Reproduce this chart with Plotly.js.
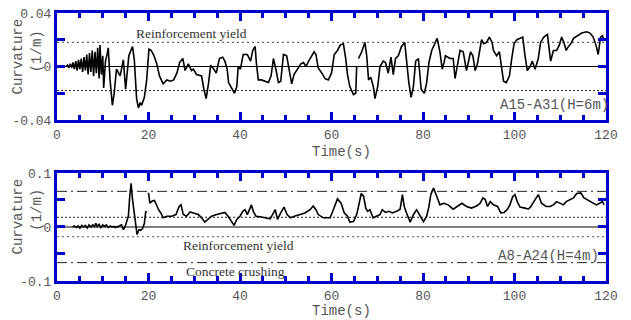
<!DOCTYPE html>
<html>
<head>
<meta charset="utf-8">
<script src="https://cdn.plot.ly/plotly-3.0.1.min.js"></script>
<style>html,body{margin:0;padding:0;background:#fff;}#chart{width:631px;height:320px;}</style>
</head>
<body>
<div id="chart"></div>
<script>
// ---- Data ----
// Top panel: A15-A31 (H=6m)
const topTime = [2.0,2.3,2.6,2.9,3.2,3.5,3.8,4.1,4.4,4.7,5.0,5.3,5.6,5.9,6.2,6.5,6.8,7.1,7.4,7.7,8.0,8.3,8.6,8.9,9.2,9.4,9.7,10.0,10.2,10.6,11.0,11.2,11.6,12.1,12.5,13.0,13.8,14.5,15.0,15.7,16.5,16.9,17.4,17.8,18.2,18.5,19.1,19.6,20.1,20.6,21.2,21.8,22.4,23.2,24.0,24.8,25.5,26.2,26.8,27.5,28.0,28.7,29.4,29.8,30.5,31.6,32.1,32.6,33.1,33.6,34.3,34.8,35.5,36.2,36.7,37.2,37.5,38.2,38.8,39.3,39.6,40.1,40.7,41.6,42.3,42.8,43.3,43.6,44.0,44.7,45.5,46.2,46.8,47.3,47.9,48.4,48.9,49.5,50.2,50.8,51.3,51.8,52.6,53.3,53.9,54.4,55.0,55.7,56.2,56.6,57.1,57.9,58.6,59.3,60.0,60.6,61.3,61.9,62.6,63.1,63.5,64.0,64.8,65.3,65.5,null,65.9,66.6,67.3,67.7,68.1,68.6,69.2,69.5,70.1,70.6,71.3,71.8,72.4,73.0,73.5,74.0,74.6,75.3,76.0,76.4,76.9,77.4,77.9,78.4,79.0,79.6,80.3,80.8,81.3,81.9,82.6,83.1,83.7,84.2,84.6,84.9,85.9,86.6,87.0,87.6,88.1,88.8,89.5,89.9,90.4,90.9,91.4,91.9,92.5,92.8,93.3,93.9,94.5,95.1,95.4,96.1,96.7,97.2,97.6,98.2,98.9,99.4,99.9,100.5,101.2,101.8,102.3,102.8,103.4,103.9,104.5,105.2,105.7,106.4,107.2,107.6,107.9,108.5,109.2,109.8,110.3,110.8,111.3,111.8,112.3,112.9,113.8,114.7,115.8,116.5,117.2,117.8,118.3,118.8,119.2,119.6];
const topCurv = [0.000,0.001,-0.001,0.002,-0.001,0.003,-0.002,0.004,-0.003,0.005,-0.002,0.006,-0.004,0.007,-0.003,0.009,-0.006,0.010,-0.004,0.012,-0.007,0.011,-0.005,0.014,-0.009,0.016,-0.006,0.008,-0.016,0.004,0.010,0.014,-0.010,-0.029,-0.020,-0.002,-0.007,0.005,-0.017,0.008,0.015,0.005,-0.024,-0.031,-0.027,-0.029,-0.023,-0.010,0.013,0.012,0.008,0.002,-0.007,-0.013,-0.010,-0.011,-0.010,-0.005,0.003,0.006,-0.003,0.002,-0.003,-0.002,-0.006,-0.007,-0.017,-0.024,-0.013,0.001,-0.002,-0.005,0.006,0.007,0.004,-0.002,-0.012,-0.016,-0.020,-0.015,0.000,-0.002,0.009,0.009,0.004,0.012,0.015,0.002,-0.010,-0.010,-0.011,-0.012,-0.007,0.006,-0.003,-0.012,-0.011,0.009,0.008,-0.005,-0.013,-0.006,-0.002,0.002,0.003,0.000,0.004,0.008,0.011,0.009,-0.001,-0.005,-0.009,-0.010,-0.005,0.009,0.012,0.016,0.017,0.006,-0.006,-0.015,-0.021,-0.020,0.000,null,0.006,0.011,0.018,0.008,-0.010,-0.008,-0.016,-0.024,-0.015,0.000,0.004,0.003,-0.005,0.007,-0.006,0.006,0.008,0.015,0.018,0.003,-0.012,-0.023,-0.015,0.004,0.006,-0.017,-0.020,-0.012,0.003,0.012,0.017,0.021,0.011,-0.002,0.003,0.008,0.006,0.006,-0.009,0.002,0.012,0.011,-0.003,0.003,0.011,0.008,-0.003,0.002,0.013,0.020,0.017,0.018,0.022,0.018,0.012,0.008,0.011,-0.002,-0.011,-0.012,-0.007,0.006,0.017,0.020,0.021,0.022,0.008,-0.003,0.000,0.004,-0.002,0.006,0.018,0.022,0.024,0.013,0.004,0.012,0.012,0.016,0.022,0.018,0.012,0.015,0.017,0.021,0.023,0.025,0.026,0.025,0.022,0.016,0.009,0.022,0.023,0.020];

// Bottom panel: A8-A24 (H=4m)
const botTime = [3.4,3.8,4.2,4.6,5.0,5.4,5.8,6.2,6.6,7.0,7.4,7.8,8.2,8.5,8.8,9.2,9.6,10.0,10.4,10.8,11.2,11.6,12.0,12.4,12.8,13.2,13.6,14.1,14.5,14.9,15.2,15.6,15.9,16.2,16.5,16.9,17.2,17.5,17.9,18.3,18.7,19.1,19.4,19.6,null,20.0,20.3,20.8,21.3,21.6,22.2,22.7,23.2,24.0,25.1,26.0,26.7,27.1,27.6,28.3,29.1,29.8,30.9,31.6,32.3,33.1,33.8,34.9,36.0,36.7,37.4,38.2,38.7,39.3,40.0,40.6,41.1,41.6,42.2,42.5,42.9,43.5,44.4,45.5,46.6,47.7,48.2,48.9,49.6,50.3,51.0,51.9,53.1,54.2,55.3,56.0,56.6,57.1,58.2,59.3,59.7,60.4,61.3,62.1,62.8,63.5,64.0,64.8,65.5,65.9,66.5,67.0,67.5,67.9,68.4,69.1,69.9,70.6,71.1,71.8,72.6,73.3,74.2,75.0,75.5,75.9,76.4,77.2,77.9,78.6,79.4,80.1,80.8,81.3,81.7,82.3,83.0,83.7,84.5,85.5,86.6,87.6,88.5,89.5,90.6,91.7,92.5,93.1,93.6,94.1,94.7,95.4,96.3,97.0,97.7,98.4,99.0,99.6,100.1,100.6,101.2,102.3,103.0,103.5,104.5,105.2,105.9,106.9,107.8,108.5,109.2,109.9,110.7,111.3,112.1,112.9,113.6,114.5,115.2,116.2,117.2,117.9,118.6,119.2,119.6];
const botCurv = [0.000,0.002,-0.001,0.002,-0.002,0.003,0.000,0.003,-0.002,0.004,0.000,0.004,0.001,0.007,0.001,0.005,-0.001,0.004,0.001,0.004,-0.001,0.002,0.000,0.001,-0.001,0.000,0.002,0.004,-0.005,0.001,0.010,0.020,0.057,0.081,0.051,0.020,0.001,-0.014,-0.005,-0.006,-0.003,0.007,0.029,0.027,null,0.063,0.044,0.048,0.049,0.044,0.032,0.026,0.017,0.020,0.020,0.023,0.038,0.041,0.023,0.020,0.028,0.026,0.023,0.017,0.009,0.015,0.020,0.023,0.026,0.027,0.020,0.010,0.003,0.014,0.020,0.029,0.032,0.023,0.033,0.041,0.029,0.020,0.019,0.017,0.015,0.032,0.014,0.026,0.037,0.023,0.017,0.020,0.023,0.026,0.032,0.039,0.032,0.023,0.017,0.017,0.017,0.032,0.052,0.044,0.026,0.020,0.009,0.010,0.023,0.038,0.062,0.057,0.035,0.029,0.032,0.017,0.021,0.023,0.032,0.027,0.029,0.026,0.029,0.033,0.060,0.038,0.026,0.009,0.023,0.032,0.020,0.010,0.020,0.038,0.060,0.072,0.057,0.041,0.044,0.041,0.033,0.039,0.044,0.038,0.035,0.039,0.044,0.054,0.051,0.038,0.047,0.041,0.038,0.026,0.027,0.032,0.041,0.056,0.060,0.047,0.037,0.035,0.033,0.037,0.051,0.060,0.044,0.038,0.038,0.041,0.047,0.044,0.041,0.047,0.050,0.054,0.062,0.063,0.054,0.049,0.044,0.041,0.044,0.047,0.041];

// Thresholds
const timeSpan = [0, 120];
const yieldTop = 0.018;        // reinforcement yield, top panel
const yieldBot = 0.018;        // reinforcement yield, bottom panel
const crushBot = 0.066;        // concrete crushing, bottom panel

// Tick labels
const xTickVals = [0, 20, 40, 60, 80, 100, 120];
const yTopVals = [-0.04, -0.02, 0, 0.02, 0.04];
const yTopText = ['-0.04', '', '0', '', '0.04'];
const yBotVals = [-0.1, -0.05, 0, 0.05, 0.1];
const yBotText = ['-0.1', '', '0', '', '0.1'];

// Labels
const topCaseLabel = 'A15-A31(H=6m)';
const botCaseLabel = 'A8-A24(H=4m)';
const yieldLabel = 'Reinforcement yield';
const crushLabel = 'Concrete crushing';
const xTitle = 'Time(s)';
const yTitleA = 'Curvature';
const yTitleB = '(1/m)';

// ---- Styling ----
const BLUE = '#0000cc';
const GRAY = '#555555';
const MONO = 'Liberation Mono, Courier New, monospace';
const SERIF = 'Liberation Serif, Times New Roman, serif';

function hline(xa, ya, v, color, dash, w) {
  return {x: timeSpan, y: [v, v], xaxis: xa, yaxis: ya, mode: 'lines',
          line: {color: color, width: w, dash: dash}, hoverinfo: 'skip'};
}

const traces = [
  hline('x', 'y', 0, '#000', 'solid', 1),
  hline('x', 'y', yieldTop, '#666', '2px,3px', 1.2),
  hline('x', 'y', -yieldTop, '#222', '2px,2px', 1),
  {x: topTime, y: topCurv, xaxis: 'x', yaxis: 'y', mode: 'lines', connectgaps: false,
   line: {color: '#000', width: 1.6}},
  hline('x2', 'y2', 0, '#000', 'solid', 1),
  hline('x2', 'y2', yieldBot, '#222', '2px,2px', 1),
  hline('x2', 'y2', -yieldBot, '#777', '2px,3px', 1.2),
  hline('x2', 'y2', crushBot, '#222', '10px,4px,2px,4px', 1),
  hline('x2', 'y2', -crushBot, '#222', '10px,4px,2px,4px', 1),
  {x: botTime, y: botCurv, xaxis: 'x2', yaxis: 'y2', mode: 'lines', connectgaps: false,
   line: {color: '#000', width: 1.6}}
];

function xAxis(anchor) {
  return {anchor: anchor, domain: [0, 1], range: timeSpan, tickvals: xTickVals,
          ticks: 'inside', ticklen: 8, tickwidth: 3, tickcolor: BLUE,
          showline: true, linecolor: BLUE, linewidth: 3, mirror: 'allticks',
          showgrid: false, zeroline: false,
          tickfont: {family: MONO, size: 13, color: GRAY},
          minor: {dtick: 5, tick0: 0, ticks: 'inside', ticklen: 5, tickwidth: 3,
                  tickcolor: BLUE, showgrid: false}};
}
function yAxis(anchor, domain, range, vals, text) {
  return {anchor: anchor, domain: domain, range: range, tickvals: vals, ticktext: text,
          ticks: 'inside', ticklen: 8, tickwidth: 3, tickcolor: BLUE,
          showline: true, linecolor: BLUE, linewidth: 3, mirror: 'allticks',
          showgrid: false, zeroline: false,
          tickfont: {family: MONO, size: 13, color: GRAY}};
}

function note(text, xref, yref, x, y, font, angle) {
  return {text: text, xref: xref, yref: yref, x: x, y: y, showarrow: false,
          xanchor: 'center', yanchor: 'middle', font: font, textangle: angle || 0};
}
const monoFont = {family: MONO, size: 14, color: GRAY};
const serifFont = {family: SERIF, size: 13.5, color: '#333'};

const annotations = [
  note(yieldLabel, 'x', 'y', 29.4, 0.0248, serifFont),
  note(topCaseLabel, 'x', 'y', 108.7, -0.029, monoFont),
  note(yieldLabel, 'x2', 'y2', 39.7, -0.0346, serifFont),
  note(crushLabel, 'x2', 'y2', 39.1, -0.082, serifFont),
  note(botCaseLabel, 'x2', 'y2', 107.5, -0.053, monoFont),
  note(xTitle, 'paper', 'paper', 0.519, 0.482, monoFont),
  note(xTitle, 'paper', 'paper', 0.519, -0.113, monoFont),
  note(yTitleA, 'paper', 'paper', -0.071, 0.838, monoFont, -90),
  note(yTitleB, 'paper', 'paper', -0.036, 0.858, monoFont, -90),
  note(yTitleA, 'paper', 'paper', -0.071, 0.2407, monoFont, -90),
  note(yTitleB, 'paper', 'paper', -0.036, 0.2668, monoFont, -90)
];

const layout = {
  width: 631, height: 320,
  margin: {l: 57, r: 25, t: 13, b: 39},
  paper_bgcolor: '#fff', plot_bgcolor: '#fff',
  showlegend: false, hovermode: false,
  xaxis: xAxis('y'),
  yaxis: yAxis('x', [0.6007, 1], [-0.04, 0.04], yTopVals, yTopText),
  xaxis2: xAxis('y2'),
  yaxis2: yAxis('x2', [0, 0.403], [-0.1, 0.1], yBotVals, yBotText),
  annotations: annotations
};

Plotly.newPlot('chart', traces, layout, {displayModeBar: false, staticPlot: true});
</script>
</body>
</html>
